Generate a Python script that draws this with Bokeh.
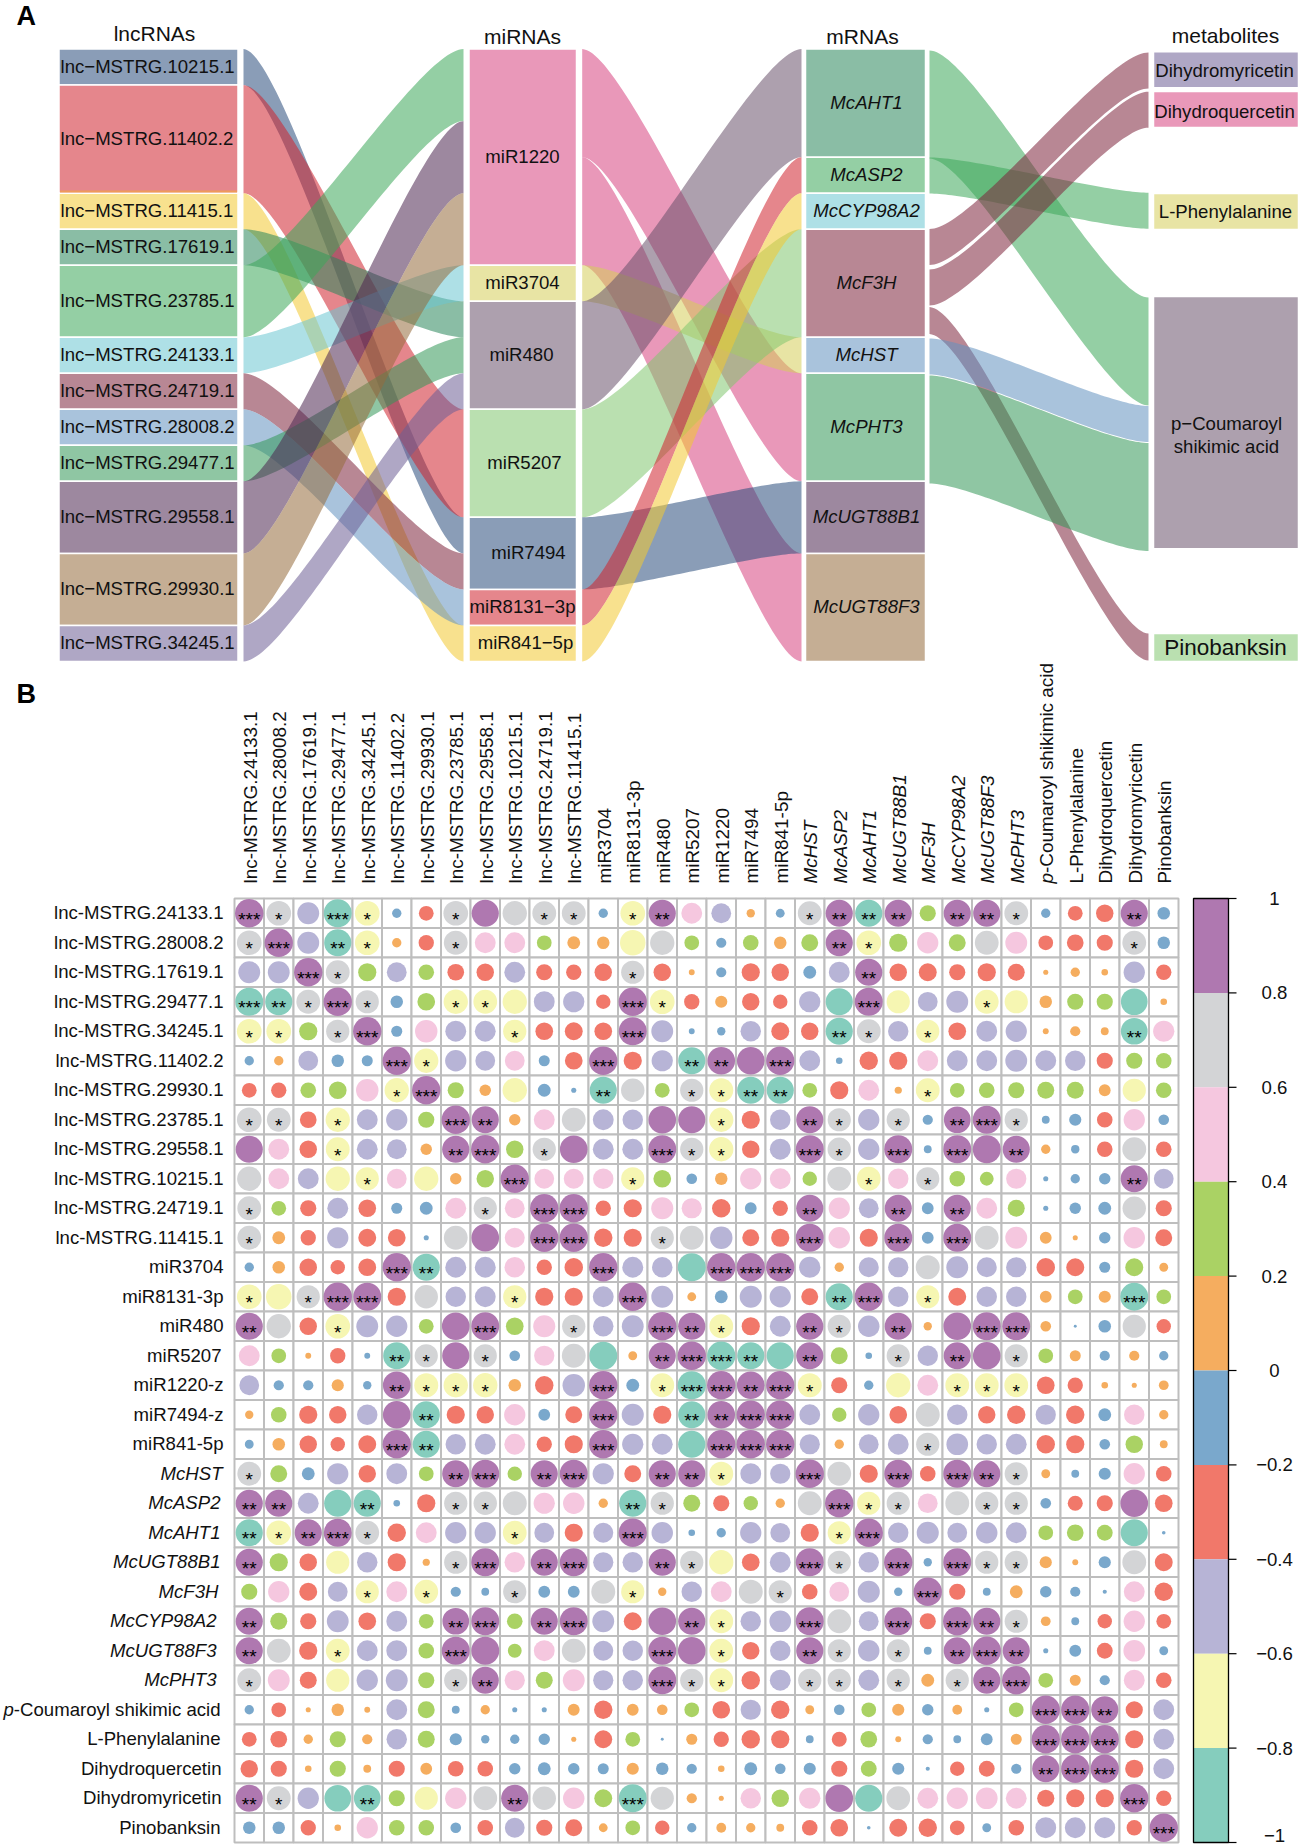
import math
import numpy as np
from bokeh.plotting import figure
from bokeh.models import Range1d
from bokeh.core.properties import value
from bokeh.embed import file_html
from bokeh.resources import INLINE

# ---------- Sankey data ----------
lnc_names = ["lnc−MSTRG.10215.1", "lnc−MSTRG.11402.2", "lnc−MSTRG.11415.1", "lnc−MSTRG.17619.1",
             "lnc−MSTRG.23785.1", "lnc−MSTRG.24133.1", "lnc−MSTRG.24719.1", "lnc−MSTRG.28008.2",
             "lnc−MSTRG.29477.1", "lnc−MSTRG.29558.1", "lnc−MSTRG.29930.1", "lnc−MSTRG.34245.1"]
lnc_units = [1, 3, 1, 1, 2, 1, 1, 1, 1, 2, 2, 1]
lnc_colors = ["#8A9DB7", "#E5868C", "#F8E18E", "#8ABDA5", "#94CFA4", "#AEE0E6",
              "#B88794", "#A9C3DC", "#8FC6A3", "#9D889F", "#C5AE94", "#AFA7C5"]

mir_names = ["miR1220", "miR3704", "miR480", "miR5207", "miR7494", "miR8131−3p", "miR841−5p"]
mir_units = [6, 1, 3, 3, 2, 1, 1]
mir_colors = ["#E998B9", "#E8E4A4", "#ADA0AE", "#BAE0B0", "#8A9DB7", "#E5868C", "#F8E18E"]

mrna_names = ["McAHT1", "McASP2", "McCYP98A2", "McF3H", "McHST", "McPHT3", "McUGT88B1", "McUGT88F3"]
mrna_units = [3, 1, 1, 3, 1, 3, 2, 3]
mrna_colors = ["#8ABDA5", "#94CFA4", "#AEE0E6", "#B88794", "#A9C3DC", "#8FC6A3", "#9D889F", "#C5AE94"]
mrna_link_colors = ["#94CFA4", "#94CFA4", "#AEE0E6", "#B88794", "#A9C3DC", "#8FC6A3", "#9D889F", "#C5AE94"]

met_names = ["Dihydromyricetin", "Dihydroquercetin", "L-Phenylalanine", "p−Coumaroyl\nshikimic acid", "Pinobanksin"]
met_colors = ["#AFA7C5", "#E998B9", "#E8E4A4", "#ADA0AE", "#BAE0B0"]
met_units = [1, 1, 1, 7, 0.78]

# links listed in the top-to-bottom order of the target stack: (source, target, units)
lnc_to_mir = [(4, 0, 2), (9, 0, 2), (10, 0, 2), (5, 1, 1), (3, 2, 1), (8, 2, 1), (11, 2, 1),
              (1, 3, 3), (0, 4, 1), (6, 4, 1), (7, 5, 1), (2, 6, 1)]
mir_to_mrna = [(2, 0, 3), (5, 1, 1), (6, 2, 1), (3, 3, 3), (1, 4, 1), (0, 5, 3), (4, 6, 2), (0, 7, 3)]
mrna_to_met = [(0, 3, 3), (1, 2, 1), (3, 0, 1), (3, 1, 1), (3, 4, 0.75), (4, 3, 1), (5, 3, 3)]

# ---------- Correlation data ----------
row_labels = ["lnc-MSTRG.24133.1", "lnc-MSTRG.28008.2", "lnc-MSTRG.17619.1", "lnc-MSTRG.29477.1",
              "lnc-MSTRG.34245.1", "lnc-MSTRG.11402.2", "lnc-MSTRG.29930.1", "lnc-MSTRG.23785.1",
              "lnc-MSTRG.29558.1", "lnc-MSTRG.10215.1", "lnc-MSTRG.24719.1", "lnc-MSTRG.11415.1",
              "miR3704", "miR8131-3p", "miR480", "miR5207", "miR1220-z", "miR7494-z", "miR841-5p",
              "McHST", "McASP2", "McAHT1", "McUGT88B1", "McF3H", "McCYP98A2", "McUGT88F3", "McPHT3",
              "-Coumaroyl shikimic acid", "L-Phenylalanine", "Dihydroquercetin", "Dihydromyricetin", "Pinobanksin"]
col_labels = [s for s in row_labels]
col_labels[16] = "miR1220"
col_labels[17] = "miR7494"
italic_idx = list(range(19, 27))

corr_upper = [
    [1, .7, -.55, -.9, -.7, -.1, -.25, .7, .85, .68, .65, .65, -.1, -.7, .85, .5, -.45, .08, -.09, .65, .85, -.85, .85, .3, .85, .85, .65, -.1, -.25, -.35, .85, -.18],
    [1, -.55, -.85, -.7, .1, -.27, .65, .5, .5, .25, .19, .18, -.75, .68, .25, -.12, .28, .18, .33, .85, -.7, .38, .52, .33, .65, .55, -.25, -.32, -.3, .65, -.18],
    [1, .65, .38, -.45, .28, -.32, -.35, -.5, -.3, -.27, -.35, .62, -.35, .04, -.12, -.38, -.35, -.19, -.5, .85, -.35, -.37, -.3, -.38, -.33, .03, .1, .05, -.52, -.27],
    [1, .62, -.18, .36, -.68, -.65, -.68, -.5, -.52, -.24, .95, -.7, -.27, .17, -.35, -.24, -.52, -.85, .9, -.62, -.45, -.55, -.65, -.62, .18, .3, .3, -.82, .05],
    [1, -.14, .58, -.5, -.5, -.62, -.36, -.37, -.36, .9, -.55, -.04, -.08, -.48, -.37, -.35, -.85, .65, -.48, -.62, -.36, -.5, -.52, .04, .12, .07, -.82, .52],
    [1, -.68, -.52, -.45, .45, -.14, -.36, .93, -.38, -.52, -.85, .88, .88, .92, -.5, -.05, -.39, -.38, .5, -.5, -.5, -.55, -.5, -.48, -.3, .3, .28],
    [1, .3, .15, -.68, -.19, -.03, -.85, .63, .25, .62, -.66, -.85, -.85, .25, -.38, .5, .06, -.65, .25, .28, .3, .33, .33, .16, -.62, .28],
    [1, .85, .15, .5, .65, -.5, -.48, .88, .85, -.68, -.38, -.48, .85, .62, -.52, .62, -.12, .82, .9, .62, -.07, -.17, -.28, .52, -.13],
    [1, .35, .62, .88, -.5, -.5, .9, .62, -.68, -.35, -.5, .9, .63, -.52, .9, -.07, .9, .9, .85, .1, -.08, -.28, .65, -.28],
    [1, .45, .46, .48, -.62, .36, -.13, .18, .52, .5, .24, .66, -.65, .48, .62, .28, .22, .47, -.03, -.1, -.15, .85, -.45],
    [1, .93, -.27, -.38, .56, .47, -.39, -.16, -.27, .85, .52, -.45, .85, -.16, .85, .5, .33, -.03, -.15, -.19, .63, -.3],
    [1, -.39, -.38, .62, .65, -.58, -.33, -.38, .9, .53, -.38, .9, -.16, .9, .65, .55, .16, .03, -.15, .53, -.33],
    [1, -.5, -.48, -.9, .95, .95, .95, -.52, .1, -.46, -.47, .66, -.55, -.46, -.47, -.39, -.37, -.14, .37, .09],
    [1, -.55, .09, -.19, -.56, -.52, -.33, -.85, .92, -.48, -.62, -.37, -.48, -.48, .16, .25, .17, -.9, .25],
    [1, .85, -.65, -.38, -.5, .85, .62, -.53, .85, .08, .88, .9, .9, .13, -.01, -.18, .62, -.24],
    [1, -.92, -.85, -.85, .85, .33, -.05, .62, -.48, .85, .88, .62, .25, .14, -.12, .12, -.1],
    [1, .88, .92, -.66, -.3, -.1, -.68, .5, -.65, -.65, -.65, -.36, -.27, .05, .03, .11],
    [1, .95, -.5, .24, -.52, -.36, .66, -.48, -.35, -.39, -.47, -.39, -.19, .48, .1],
    [1, -.47, .1, -.45, -.5, .62, -.54, -.48, -.5, -.39, -.38, -.13, .35, .07],
    [1, .65, -.38, .9, -.28, .9, .85, .62, .09, -.07, -.17, .52, -.28],
    [1, -.62, .62, .45, .65, .62, .62, -.13, -.26, -.3, .88, -.36],
    [1, -.48, -.56, -.45, -.53, -.5, .25, .32, .29, -.85, -.015],
    [1, -.08, .9, .62, .62, .17, .04, -.17, .65, -.37],
    [1, -.3, -.07, .19, -.15, -.12, -.02, .5, -.39],
    [1, .85, .62, .11, -.07, -.24, .52, -.25],
    [1, .85, -.03, -.16, -.29, .54, -.09],
    [1, .25, .14, -.12, .5, -.28],
    [1, .92, .85, -.34, -.5],
    [1, .92, -.38, -.5],
    [1, -.38, -.5],
    [1, -.27],
    [1],
]

# significance stars, upper triangle: {column: number of stars}; the diagonal always has three
stars_upper = [
    {1: 1, 3: 3, 4: 1, 7: 1, 10: 1, 11: 1, 13: 1, 14: 2, 19: 1, 20: 2, 21: 2, 22: 2, 24: 2, 25: 2, 26: 1, 30: 2},
    {3: 2, 4: 1, 7: 1, 20: 2, 21: 1, 30: 1},
    {3: 1, 13: 1, 21: 2},
    {4: 1, 7: 1, 8: 1, 13: 3, 14: 1, 21: 3, 25: 1},
    {9: 1, 13: 3, 20: 2, 21: 1, 23: 1, 30: 2},
    {6: 1, 12: 3, 15: 2, 16: 2, 18: 3},
    {12: 2, 15: 1, 16: 1, 17: 2, 18: 2, 23: 1},
    {8: 2, 16: 1, 19: 2, 20: 1, 22: 1, 24: 2, 25: 3, 26: 1},
    {10: 1, 14: 3, 15: 1, 16: 1, 19: 3, 20: 1, 22: 3, 24: 3, 26: 2},
    {13: 1, 21: 1, 23: 1, 30: 2},
    {11: 3, 19: 2, 22: 2, 24: 2},
    {14: 1, 19: 3, 22: 3, 24: 3},
    {16: 3, 17: 3, 18: 3},
    {20: 2, 21: 3, 23: 1, 30: 3},
    {15: 2, 16: 1, 19: 2, 20: 1, 22: 2, 25: 3, 26: 3},
    {16: 3, 17: 2, 19: 2, 22: 1, 24: 2, 26: 1},
    {17: 2, 18: 3, 19: 1, 24: 1, 25: 1, 26: 1},
    {18: 3},
    {23: 1},
    {22: 3, 24: 3, 25: 2, 26: 1},
    {21: 1, 22: 1, 25: 1, 26: 1},
    {},
    {24: 3, 25: 1, 26: 1},
    {},
    {25: 2, 26: 1},
    {26: 2},
    {},
    {28: 3, 29: 2},
    {29: 3},
    {},
    {},
    {},
]

cbar_ticks = [1, 0.8, 0.6, 0.4, 0.2, 0, -0.2, -0.4, -0.6, -0.8, -1]
cbar_labels = ["1", "0.8", "0.6", "0.4", "0.2", "0", "−0.2", "−0.4", "−0.6", "−0.8", "−1"]
cbar_colors = ["#AF78B0", "#D3D4D6", "#F5C7DF", "#AAD264", "#F5AD5F", "#7AA8CC", "#F1786A", "#B7B4D6", "#F6F6B2", "#85CDBD"]

# ---------- layout constants (reference pixels) ----------
W, H = 1298, 1845
FONT = value("Liberation Sans")
FS = 18.6
FS_COL = 18.9
U = 36.02
Y0 = 48.6
KNOT = 0.2
LNC_X = (58.5, 237.5)
MIR_X = (468.5, 576.0)
MRNA_X = (805.0, 925.0)
MET_X = (1153.0, 1298.0)
BAND_12 = (243.0, 463.0)
BAND_23 = (581.7, 801.0)
BAND_34 = (929.0, 1148.0)
MET_TOPS = [51.2, 91.0, 193.0, 296.0, 633.0]
MET_SRC_TOPS = {(0, 3): 50.0, (1, 2): 157.0, (3, 0): 228.5, (3, 1): 269.0, (3, 4): 306.6, (4, 3): 338.0, (5, 3): 375.0}
MET_TGT_TOPS = {(0, 3): 297.0, (1, 2): 192.2, (3, 0): 52.0, (3, 1): 91.2, (3, 4): 633.0, (4, 3): 405.5, (5, 3): 442.5}
GX0, GY0, CELL = 234.0, 898.0, 29.5
LINK_ALPHA = 0.55

p = figure(width=W, height=H, x_range=Range1d(0, W), y_range=Range1d(H, 0),
           output_backend="svg", toolbar_location=None, min_border=0)
p.axis.visible = False
p.grid.visible = False
p.outline_line_color = None
p.background_fill_color = "white"


def base_color(hexcol):
    """Colour that gives hexcol over white at LINK_ALPHA."""
    rgb = [int(hexcol[k:k + 2], 16) for k in (1, 3, 5)]
    out = [max(0, min(255, round((c - (1 - LINK_ALPHA) * 255) / LINK_ALPHA))) for c in rgb]
    return "#%02X%02X%02X" % tuple(out)


def stack(units):
    tops, y = [], Y0
    for u in units:
        tops.append(y)
        y += u * U
    return tops


def band(x0, x1, top0, top1, h0, h1):
    t = np.linspace(0, 1, 60)
    L = x1 - x0
    c1, c2 = x0 + KNOT * L, x1 - KNOT * L
    xs = (1 - t) ** 3 * x0 + 3 * (1 - t) ** 2 * t * c1 + 3 * (1 - t) * t ** 2 * c2 + t ** 3 * x1
    s = 3 * t ** 2 - 2 * t ** 3
    upper = top0 + (top1 - top0) * s
    lower = top0 + h0 + (top1 + h1 - top0 - h0) * s
    return list(xs) + list(xs[::-1]), list(upper) + list(lower[::-1])


def links(lst, src_tops, tgt_tops, src_cols, xr):
    s_off = [0] * len(src_tops)
    t_off = [0] * len(tgt_tops)
    drawn = []
    for s, t, u in lst:
        bx, by = band(xr[0], xr[1], src_tops[s] + s_off[s] * U, tgt_tops[t] + t_off[t] * U, u * U, u * U)
        s_off[s] += u
        t_off[t] += u
        drawn.append((s, bx, by, base_color(src_cols[s])))
    # painted in source order, so that later sources lie on top
    drawn.sort(key=lambda d: d[0])
    p.patches([d[1] for d in drawn], [d[2] for d in drawn], fill_color=[d[3] for d in drawn],
              fill_alpha=LINK_ALPHA, line_color=None)


lnc_tops = stack(lnc_units)
mir_tops = stack(mir_units)
mrna_tops = stack(mrna_units)

links(lnc_to_mir, lnc_tops, mir_tops, lnc_colors, BAND_12)
links(mir_to_mrna, mir_tops, mrna_tops, mir_colors, BAND_23)

X, Y, C = [], [], []
for s, t, u in mrna_to_met:
    bx, by = band(BAND_34[0], BAND_34[1], MET_SRC_TOPS[(s, t)], MET_TGT_TOPS[(s, t)], u * U, u * U)
    X.append(bx)
    Y.append(by)
    C.append(base_color(mrna_link_colors[s]))
p.patches(X, Y, fill_color=C, fill_alpha=LINK_ALPHA, line_color=None)


def nodes(tops, units, colors, xr):
    p.quad(left=xr[0], right=xr[1], top=tops, bottom=[a + u * U for a, u in zip(tops, units)],
           fill_color=colors, line_color="white", line_width=1.5)


nodes(lnc_tops, lnc_units, lnc_colors, LNC_X)
nodes(mir_tops, mir_units, mir_colors, MIR_X)
nodes(mrna_tops, mrna_units, mrna_colors, MRNA_X)
nodes(MET_TOPS, met_units, met_colors, MET_X)
# thin orange sliver at the foot of lnc-MSTRG.11402.2
p.quad(left=LNC_X[0] + 1, right=LNC_X[1] - 1, top=lnc_tops[2] - 2.6, bottom=lnc_tops[2] - 0.8,
       fill_color="#EE9A5B", line_color=None)

p.text(x=[LNC_X[0] + 1.5] * len(lnc_names), y=[a + u * U / 2 - 1 for a, u in zip(lnc_tops, lnc_units)], text=lnc_names,
       text_font=FONT, text_font_size=f"{FS}px", text_align="left", text_baseline="middle", text_color="#111111")
mir_dx = [0, 0, -1, 2, 6, 0, 3]
p.text(x=[522 + d for d in mir_dx], y=[a + u * U / 2 - 1 for a, u in zip(mir_tops, mir_units)], text=mir_names,
       text_font=FONT, text_font_size=f"{FS}px", text_align="center", text_baseline="middle", text_color="#111111")
p.text(x=[866] * len(mrna_names), y=[a + u * U / 2 - 1 for a, u in zip(mrna_tops, mrna_units)], text=mrna_names,
       text_font=FONT, text_font_size=f"{FS}px", text_font_style="italic", text_align="center",
       text_baseline="middle", text_color="#111111")
met_label_x = [1224, 1224, 1225]
met_label_y = [70, 111, 211]
p.text(x=met_label_x, y=met_label_y, text=met_names[:3], text_font=FONT, text_font_size=f"{FS}px",
       text_align="center", text_baseline="middle", text_color="#111111")
p.text(x=[1226, 1226], y=[423, 446], text=met_names[3].split("\n"), text_font=FONT, text_font_size=f"{FS}px",
       text_align="center", text_baseline="middle", text_color="#111111")
p.text(x=[1225], y=[647], text=[met_names[4]], text_font=FONT, text_font_size="22.5px",
       text_align="center", text_baseline="middle", text_color="#111111")
p.text(x=[154, 522, 862, 1225], y=[33, 36, 36, 35], text=["lncRNAs", "miRNAs", "mRNAs", "metabolites"],
       text_font=FONT, text_font_size="21px", text_align="center", text_baseline="middle", text_color="#111111")
p.text(x=[16, 16], y=[15, 693], text=["A", "B"], text_font=FONT, text_font_size="27px", text_font_style="bold",
       text_align="left", text_baseline="middle", text_color="black")

# ---------- correlation grid ----------
n = len(row_labels)
mat = np.zeros((n, n))
stars = np.zeros((n, n), dtype=int)
for i, row in enumerate(corr_upper):
    for k, v in enumerate(row):
        mat[i, i + k] = mat[i + k, i] = v
    stars[i, i] = 3
    for j, m in stars_upper[i].items():
        stars[i, j] = stars[j, i] = m


def bin_color(v):
    for hi, lo, c in zip(cbar_ticks[:-1], cbar_ticks[1:], cbar_colors):
        if lo <= v <= hi:
            return c
    return cbar_colors[-1]


ii, jj = np.meshgrid(np.arange(n), np.arange(n), indexing="ij")
cx = GX0 + (jj.ravel() + 0.5) * CELL
cy = GY0 + (ii.ravel() + 0.5) * CELL
p.rect(x=cx, y=cy, width=CELL, height=CELL, fill_color="white", line_color="#BEBEBE", line_width=2)
rad = [min(0.5 * CELL * math.sqrt(abs(v)), 14.2) for v in mat.ravel()]
p.circle(x=cx, y=cy, radius=rad, fill_color=[bin_color(v) for v in mat.ravel()], line_color=None)
sx, sy, st = [], [], []
for a in range(n):
    for b in range(n):
        if stars[a, b]:
            sx.append(GX0 + (b + 0.5) * CELL)
            sy.append(GY0 + (a + 0.5) * CELL)
            st.append("*" * int(stars[a, b]))
p.text(x=sx, y=sy, text=st, text_font=FONT, text_font_size="19px", text_align="center", text_baseline="middle",
       y_offset=6, text_color="#000000")

# row labels
row_right = [223] * 15 + [221, 223, 223, 223, 222, 220, 220, 220, 218, 216, 216, 216, 220, 220, 221, 221, 220]
row_y = [GY0 + (i + 0.5) * CELL for i in range(n)]
for i in range(n):
    italic = i in italic_idx
    p.text(x=[row_right[i]], y=[row_y[i] - 0.5], text=[row_labels[i]], text_font=FONT, text_font_size=f"{FS}px",
           text_font_style="italic" if italic else "normal", text_align="right", text_baseline="middle",
           text_color="#111111")
pwidth = 11.112 * FS
p.text(x=[row_right[27] - pwidth], y=[row_y[27] - 0.5], text=["p"], text_font=FONT, text_font_size=f"{FS}px",
       text_font_style="italic", text_align="right", text_baseline="middle", text_color="#111111")

# column labels
col_x = [GX0 + (i + 0.5) * CELL + 1 for i in range(n)]
for i in range(n):
    italic = i in italic_idx
    start = 883 - (0.556 * FS_COL if i == 27 else 0)
    p.text(x=[col_x[i]], y=[start], text=[col_labels[i]], text_font=FONT, text_font_size=f"{FS_COL}px",
           text_font_style="italic" if italic else "normal", text_align="left", text_baseline="middle",
           angle=math.pi / 2, text_color="#111111")
p.text(x=[col_x[27]], y=[883], text=["p"], text_font=FONT, text_font_size=f"{FS_COL}px", text_font_style="italic",
       text_align="left", text_baseline="middle", angle=math.pi / 2, text_color="#111111")

# ---------- colour bar ----------
CB_X = (1193.0, 1228.0)


def cb_y(v):
    return GY0 + (1 - v) / 2 * n * CELL


tops = [cb_y(v) for v in cbar_ticks[:-1]]
bots = [cb_y(v) for v in cbar_ticks[1:]]
p.quad(left=CB_X[0], right=CB_X[1], top=tops, bottom=bots, fill_color=cbar_colors, line_color=None)
p.quad(left=CB_X[0], right=CB_X[1], top=cb_y(1), bottom=cb_y(-1), fill_color=None, line_color="black", line_width=1.3)
tick_y = [cb_y(v) for v in cbar_ticks]
p.segment(x0=[CB_X[1]] * len(tick_y), x1=[1236] * len(tick_y), y0=tick_y, y1=tick_y, line_color="black", line_width=1.2)
p.text(x=[1274] * len(tick_y), y=[min(t, 1835) for t in tick_y], text=cbar_labels, text_font=FONT,
       text_font_size=f"{FS}px", text_align="center", text_baseline="middle", text_color="#111111")

open("out.html", "w").write(file_html(p, INLINE))
